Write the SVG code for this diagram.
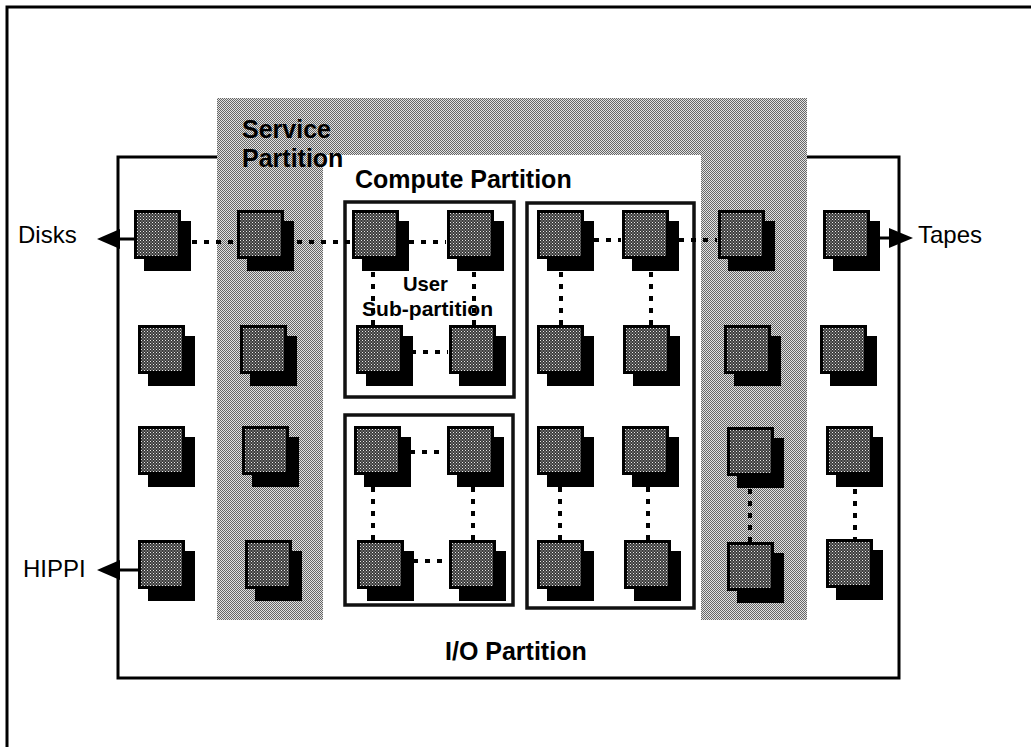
<svg xmlns="http://www.w3.org/2000/svg" xmlns:xlink="http://www.w3.org/1999/xlink" width="1031" height="747" viewBox="0 0 1031 747">
<style>
.frame{fill:none;stroke:#000;stroke-width:3}
.box{fill:none;stroke:#111;stroke-width:3.5}
.dot{stroke:#000;stroke-width:4;stroke-dasharray:5 7;fill:none}
.link{stroke:#000;stroke-width:3;fill:none}
.head{fill:#000}
.lbl{font-family:"Liberation Sans",Arial,sans-serif;font-size:24px;fill:#000}
.bold{font-weight:bold;font-size:25px}
.sub{font-family:"Liberation Sans",Arial,sans-serif;font-weight:bold;font-size:21px;fill:#000}
</style>
<defs>
<pattern id="svc" width="2" height="2" patternUnits="userSpaceOnUse">
<rect width="2" height="2" fill="#e2e2e2"/>
<rect width="1" height="1" fill="#666"/>
<rect x="1" y="1" width="1" height="1" fill="#666"/>
</pattern>
<pattern id="nd" width="3" height="3" patternUnits="userSpaceOnUse">
<rect width="3" height="3" fill="#3a3a3a"/>
<rect width="1" height="1" fill="#e8e8e8"/>
<rect x="1.5" y="1.5" width="1" height="1" fill="#c8c8c8"/>
</pattern>
<g id="node">
<rect x="10" y="11" width="47" height="50" fill="#000"/>
<rect x="1.5" y="1.5" width="44" height="46" fill="url(#nd)" stroke="#000" stroke-width="3"/>
</g>
</defs>
<rect width="1031" height="747" fill="#fff"/>
<path class="frame" d="M7,747 V7 H1031"/>
<g id="io-partition">
<rect x="118" y="157" width="781" height="521" fill="#fff" stroke="#000" stroke-width="3"/>
<text class="lbl bold" x="445" y="660">I/O Partition</text>
</g>
<g id="service-partition">
<rect x="217" y="98" width="590" height="522" fill="url(#svc)"/>
</g>
<g id="compute-partition">
<rect x="323" y="155" width="378" height="465" fill="#fff"/>
<text class="lbl bold" x="355" y="188">Compute Partition</text>
</g>
<g id="service-label">
<text class="lbl bold" x="242" y="138">Service</text>
<text class="lbl bold" x="242" y="167">Partition</text>
</g>
<g id="user-subpartition">
<rect class="box" x="345" y="202" width="169" height="195"/>
<text class="sub" x="403" y="291" textLength="45" lengthAdjust="spacingAndGlyphs">User</text>
<text class="sub" x="362" y="316" textLength="131" lengthAdjust="spacingAndGlyphs">Sub-partition</text>
</g>
<g id="subpartition-2">
<rect class="box" x="345" y="415" width="168" height="190"/>
</g>
<g id="subpartition-3">
<rect class="box" x="527" y="203" width="167" height="405"/>
</g>
<g id="connectors">
<line class="dot" x1="192" y1="242" x2="236" y2="242"/>
<line class="dot" x1="297" y1="242" x2="351" y2="242"/>
<line class="dot" x1="409" y1="242" x2="446" y2="242"/>
<line class="dot" x1="594" y1="240" x2="621" y2="240"/>
<line class="dot" x1="679" y1="240" x2="717" y2="240"/>
<line class="dot" x1="373" y1="272" x2="373" y2="325"/>
<line class="dot" x1="474" y1="272" x2="474" y2="325"/>
<line class="dot" x1="411" y1="352" x2="448" y2="352"/>
<line class="dot" x1="410" y1="452" x2="446" y2="452"/>
<line class="dot" x1="413" y1="561" x2="448" y2="561"/>
<line class="dot" x1="373" y1="487" x2="373" y2="540"/>
<line class="dot" x1="473" y1="487" x2="473" y2="540"/>
<line class="dot" x1="561" y1="272" x2="561" y2="325"/>
<line class="dot" x1="651" y1="272" x2="651" y2="325"/>
<line class="dot" x1="560" y1="487" x2="560" y2="540"/>
<line class="dot" x1="648" y1="487" x2="648" y2="540"/>
<line class="dot" x1="750" y1="489" x2="750" y2="543"/>
<line class="dot" x1="855" y1="489" x2="855" y2="540"/>
<line class="link" x1="136" y1="239" x2="110" y2="239"/>
<path class="head" d="M97,239 L120,229 L120,249 Z"/>
<line class="link" x1="140" y1="570" x2="110" y2="570"/>
<path class="head" d="M97,570 L120,560 L120,580 Z"/>
<line class="link" x1="870" y1="238" x2="900" y2="238"/>
<path class="head" d="M913,238 L889,228 L889,248 Z"/>
</g>
<g id="labels">
<text class="lbl" x="18" y="243">Disks</text>
<text class="lbl" x="918" y="243">Tapes</text>
<text class="lbl" x="23" y="577">HIPPI</text>
</g>
<g id="n11"><use xlink:href="#node" x="134" y="210"/></g>
<g id="n12"><use xlink:href="#node" x="237" y="210"/></g>
<g id="n13"><use xlink:href="#node" x="352" y="210"/></g>
<g id="n14"><use xlink:href="#node" x="447" y="210"/></g>
<g id="n15"><use xlink:href="#node" x="537" y="210"/></g>
<g id="n16"><use xlink:href="#node" x="622" y="210"/></g>
<g id="n17"><use xlink:href="#node" x="718" y="210"/></g>
<g id="n18"><use xlink:href="#node" x="823" y="210"/></g>
<g id="n21"><use xlink:href="#node" x="138" y="325"/></g>
<g id="n22"><use xlink:href="#node" x="240" y="325"/></g>
<g id="n23"><use xlink:href="#node" x="356" y="325"/></g>
<g id="n24"><use xlink:href="#node" x="449" y="325"/></g>
<g id="n25"><use xlink:href="#node" x="537" y="325"/></g>
<g id="n26"><use xlink:href="#node" x="623" y="325"/></g>
<g id="n27"><use xlink:href="#node" x="724" y="325"/></g>
<g id="n28"><use xlink:href="#node" x="820" y="325"/></g>
<g id="n31"><use xlink:href="#node" x="138" y="426"/></g>
<g id="n32"><use xlink:href="#node" x="242" y="426"/></g>
<g id="n33"><use xlink:href="#node" x="354" y="426"/></g>
<g id="n34"><use xlink:href="#node" x="447" y="426"/></g>
<g id="n35"><use xlink:href="#node" x="537" y="426"/></g>
<g id="n36"><use xlink:href="#node" x="622" y="426"/></g>
<g id="n37"><use xlink:href="#node" x="727" y="427"/></g>
<g id="n38"><use xlink:href="#node" x="826" y="426"/></g>
<g id="n41"><use xlink:href="#node" x="138" y="540"/></g>
<g id="n42"><use xlink:href="#node" x="245" y="540"/></g>
<g id="n43"><use xlink:href="#node" x="357" y="540"/></g>
<g id="n44"><use xlink:href="#node" x="449" y="540"/></g>
<g id="n45"><use xlink:href="#node" x="537" y="540"/></g>
<g id="n46"><use xlink:href="#node" x="624" y="540"/></g>
<g id="n47"><use xlink:href="#node" x="727" y="542"/></g>
<g id="n48"><use xlink:href="#node" x="826" y="539"/></g>
</svg>
